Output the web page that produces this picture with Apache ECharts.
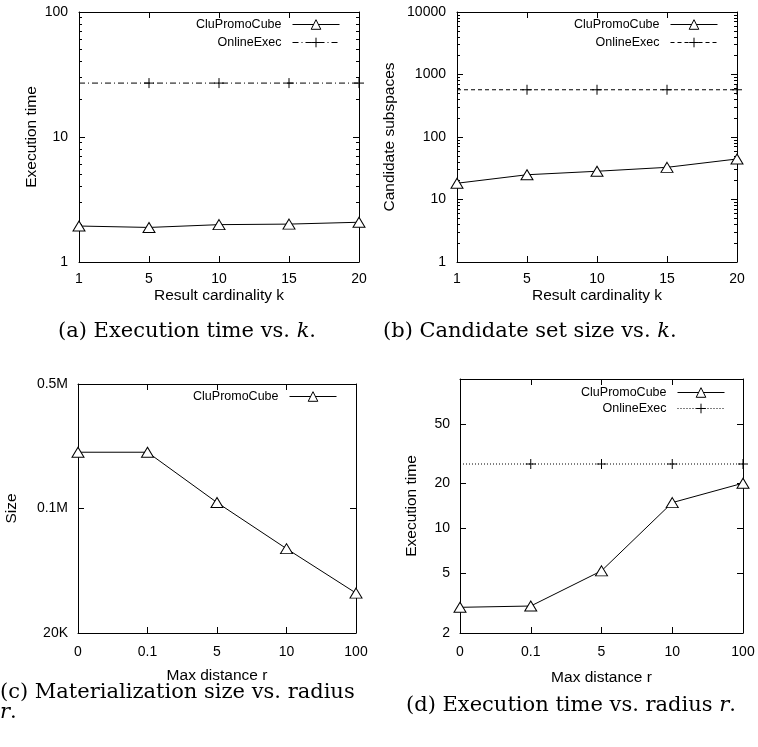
<!DOCTYPE html>
<html>
<head>
<meta charset="utf-8">
<script src="https://cdn.jsdelivr.net/npm/echarts@6.0.0/dist/echarts.min.js"></script>
<style>
  html, body { margin: 0; padding: 0; background: #fff; }
  #main { width: 758px; height: 747px; }
</style>
</head>
<body>
<div id="main"></div>
<script>
  // categories
  const kCats = ['1', '5', '10', '15', '20'];
  const rCats = ['0', '0.1', '5', '10', '100'];

  // (a) execution time vs k
  const timeKClu = [1.94, 1.89, 1.99, 2.01, 2.08];
  const timeKOnline = [27, 27, 27, 27, 27];
  // (b) candidate subspaces vs k
  const candKClu = [18.2, 24.9, 28.3, 32.7, 44.5];
  const candKOnline = [570, 570, 570, 570, 570];
  // (c) materialization size vs r
  const sizeRClu = [207000, 207000, 108000, 59500, 33500];
  // (d) execution time vs r
  const timeRClu = [2.97, 3.03, 5.21, 14.9, 20.1];
  const timeROnline = [27, 27, 27, 27, 27];

  // tick labels
  const ticksA = [1, 10, 100];
  const labelsA = ['1', '10', '100'];
  const ticksB = [1, 10, 100, 1000, 10000];
  const labelsB = ['1', '10', '100', '1000', '10000'];
  const ticksC = [20000, 100000, 500000];
  const labelsC = ['20K', '0.1M', '0.5M'];
  const ticksD = [2, 5, 10, 20, 50];
  const labelsD = ['2', '5', '10', '20', '50'];

  const SANS = '"Liberation Sans", Arial, sans-serif';
  const SERIF = '"DejaVu Serif", serif';
  const PLUS = 'path://M0,5L10,5M5,0L5,10';

  // gnuplot style minor ticks 2..9 of every decade
  function minorTicks(lo, hi) {
    const out = [];
    for (let d = 1; d < hi; d *= 10) {
      for (let m = 2; m <= 9; m++) {
        const v = m * d;
        if (v > lo && v < hi && out.indexOf(v) < 0) out.push(v);
      }
    }
    return out;
  }

  const panels = [
    { grid: { left: 79, top: 12, width: 280, height: 250 }, cats: kCats, min: 1, max: 100,
      ticks: ticksA, labels: labelsA, minor: minorTicks(1, 100),
      xName: 'Result cardinality k', yName: 'Execution time', yGap: 39, xGap: 26, xMargin: 10, yMargin: 11 },
    { grid: { left: 457, top: 12, width: 280, height: 250 }, cats: kCats, min: 1, max: 10000,
      ticks: ticksB, labels: labelsB, minor: minorTicks(1, 10000),
      xName: 'Result cardinality k', yName: 'Candidate subspaces', yGap: 59, xGap: 26, xMargin: 10, yMargin: 11 },
    { grid: { left: 78, top: 384, width: 278, height: 249 }, cats: rCats, min: 20000, max: 500000,
      ticks: ticksC, labels: labelsC, minor: [],
      xName: 'Max distance r', yName: 'Size', yGap: 58, xGap: 35, xMargin: 12, yMargin: 10 },
    { grid: { left: 460, top: 379, width: 283, height: 254 }, cats: rCats, min: 2, max: 100,
      ticks: ticksD, labels: labelsD, minor: [],
      xName: 'Max distance r', yName: 'Execution time', yGap: 40, xGap: 37, xMargin: 12, yMargin: 10 }
  ];

  const grid = [], xAxis = [], yAxis = [];
  const line = { show: true, lineStyle: { color: '#000', width: 1 } };
  const tick = { show: true, inside: true, length: 6, lineStyle: { color: '#000', width: 1 } };

  panels.forEach(function (p, i) {
    grid.push(p.grid);
    // bottom axis with labels, top axis as mirror
    xAxis.push({
      gridIndex: i, type: 'category', data: p.cats, boundaryGap: false, position: 'bottom',
      axisLine: line, axisTick: tick,
      axisLabel: { color: '#000', fontFamily: SANS, fontSize: 14, margin: p.xMargin },
      name: p.xName, nameLocation: 'middle', nameGap: p.xGap,
      nameTextStyle: { color: '#000', fontFamily: SANS, fontSize: 15.5 },
      splitLine: { show: false }
    });
    xAxis.push({
      gridIndex: i, type: 'category', data: p.cats, boundaryGap: false, position: 'top',
      axisLine: line, axisTick: tick,
      axisLabel: { show: false }, splitLine: { show: false }
    });
    const fmt = function (v) {
      const j = p.ticks.findIndex(t => Math.abs(t - v) / t < 1e-6);
      return j >= 0 ? p.labels[j] : '';
    };
    yAxis.push({
      gridIndex: i, type: 'log', min: p.min, max: p.max, position: 'left',
      axisLine: line,
      axisTick: Object.assign({}, tick, { customValues: p.ticks }),
      axisLabel: { color: '#000', fontFamily: SANS, fontSize: 14, margin: p.yMargin, customValues: p.ticks, formatter: fmt },
      name: p.yName, nameLocation: 'middle', nameGap: p.yGap, nameRotate: 90,
      nameTextStyle: { color: '#000', fontFamily: SANS, fontSize: 15.5 },
      splitLine: { show: false }
    });
    yAxis.push({
      gridIndex: i, type: 'log', min: p.min, max: p.max, position: 'right',
      axisLine: line,
      axisTick: Object.assign({}, tick, { customValues: p.ticks }),
      axisLabel: { show: false }, splitLine: { show: false }
    });
    if (p.minor.length) {
      ['left', 'right'].forEach(function (side) {
        yAxis.push({
          gridIndex: i, type: 'log', min: p.min, max: p.max, position: side,
          axisLine: { show: false },
          axisTick: Object.assign({}, tick, { length: 3, customValues: p.minor }),
          axisLabel: { show: false }, splitLine: { show: false }
        });
      });
    }
  });

  // axis indices per panel
  const xIdx = [0, 2, 4, 6];
  const yIdx = [0, 4, 8, 10];

  function cluSeries(i, data) {
    return {
      name: 'CluPromoCube', type: 'line', data: data,
      xAxisIndex: xIdx[i], yAxisIndex: yIdx[i],
      symbol: 'triangle', symbolSize: [12, 10], showAllSymbol: true,
      lineStyle: { color: '#000', width: 1 },
      itemStyle: { color: '#fff', borderColor: '#000', borderWidth: 1 },
      emphasis: { disabled: true }, animation: false, z: 3
    };
  }
  function onlineSeries(i, data, dash) {
    // gnuplot leaves the point on the left frame without its cross
    const pts = data.map((v, j) => (j === 0 ? { value: v, symbol: 'none' } : v));
    return {
      name: 'OnlineExec', type: 'line', data: pts,
      xAxisIndex: xIdx[i], yAxisIndex: yIdx[i],
      symbol: PLUS, symbolSize: 10, showAllSymbol: true,
      lineStyle: { color: '#000', width: 1, type: dash },
      itemStyle: { color: '#000', borderColor: '#000', borderWidth: 1 },
      emphasis: { disabled: true }, animation: false, z: 2
    };
  }

  const dashA = [6, 3, 1, 3];
  const dashB = [4, 3];
  const dashD = [1, 2];

  const series = [
    cluSeries(0, timeKClu), onlineSeries(0, timeKOnline, dashA),
    cluSeries(1, candKClu), onlineSeries(1, candKOnline, dashB),
    cluSeries(2, sizeRClu),
    cluSeries(3, timeRClu), onlineSeries(3, timeROnline, dashD)
  ];

  function legendItems(dash) {
    const items = [{
      name: 'CluPromoCube',
      lineStyle: { color: '#000', width: 1, type: 'solid' },
      itemStyle: { color: '#fff', borderColor: '#000', borderWidth: 1 }
    }];
    if (dash) {
      items.push({
        name: 'OnlineExec',
        lineStyle: { color: '#000', width: 1, type: dash },
        itemStyle: { color: '#000', borderColor: '#000', borderWidth: 1 }
      });
    }
    return items;
  }
  function legend(right, top, gap, dash) {
    return {
      orient: 'vertical', align: 'right', right: right, top: top, padding: 0,
      itemWidth: 47, itemHeight: 12, itemGap: gap, selectedMode: false,
      textStyle: { color: '#000', fontFamily: SANS, fontSize: 12.5, padding: [0, 6, 0, 0] },
      data: legendItems(dash)
    };
  }

  function caption(text, left, top) {
    return {
      text: text, left: left, top: top, padding: 0,
      textStyle: {
        fontFamily: SERIF, fontSize: 21, fontWeight: 'normal', color: '#000',
        rich: {
          n: { fontFamily: SERIF, fontSize: 21, color: '#000' },
          i: { fontFamily: SERIF, fontSize: 21, fontStyle: 'italic', color: '#000' }
        }
      }
    };
  }

  const option = {
    backgroundColor: '#fff',
    animation: false,
    title: [
      caption('{n|(a) Execution time vs. }{i|k}{n|.}', 58, 321),
      caption('{n|(b) Candidate set size vs. }{i|k}{n|.}', 383, 321),
      caption('{n|(c) Materialization size vs. radius}', 0, 682),
      caption('{i|r}{n|.}', 0, 702),
      caption('{n|(d) Execution time vs. radius }{i|r}{n|.}', 406, 695)
    ],
    legend: [
      legend(418, 18, 5, dashA),
      legend(40, 18, 5, dashB),
      legend(421, 390, 5, null),
      legend(33, 386, 3, dashD)
    ],
    grid: grid,
    xAxis: xAxis,
    yAxis: yAxis,
    series: series
  };

  const chart = echarts.init(document.getElementById('main'));
  chart.setOption(option);
</script>
</body>
</html>
